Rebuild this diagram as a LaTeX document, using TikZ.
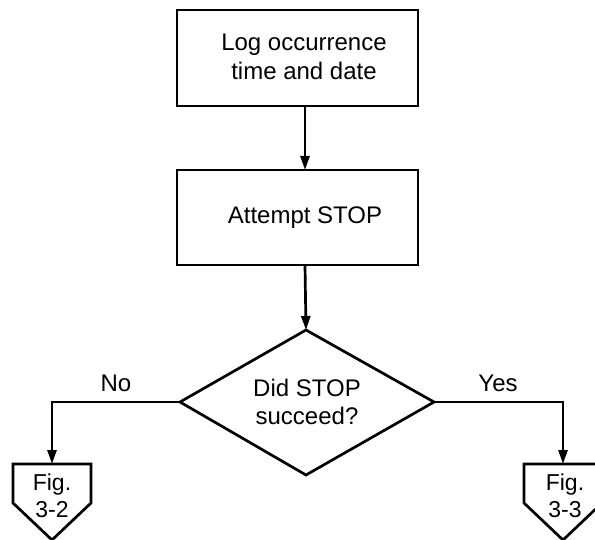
\documentclass[tikz,border=0pt]{standalone}
\usepackage{fontspec}
\setmainfont{Liberation Sans}
\usetikzlibrary{arrows.meta}
\begin{document}
\begin{tikzpicture}[x=1pt,y=-1pt,
  line width=2.7pt,
  lbl/.style={font=\fontsize{24}{28.5}\selectfont, align=center, inner sep=0pt},
  flbl/.style={font=\fontsize{23}{27}\selectfont, align=center, inner sep=0pt},
  arr/.style={-{Triangle[length=14pt,width=9pt]}}]
\useasboundingbox (0,0) rectangle (595,540);
\begin{scope}
\clip (0,0) rectangle (595,540);
% boxes
\draw (177,10) rectangle (418,106);
\node[lbl] (b1) at (304,57) {Log occurrence\\time and date};
\coordinate (b1s) at (305,106);
\draw (177,170) rectangle (418,265);
\node[lbl] (b2) at (305,218) {Attempt STOP};
\coordinate (b2n) at (305,170);
\coordinate (b2s) at (305,265);
% diamond
\coordinate (dt) at (306,330);
\coordinate (dl) at (180,402);
\coordinate (dr) at (434,402);
\coordinate (db) at (306,475);
\draw (dt) -- (dr) -- (db) -- (dl) -- cycle;
\node[lbl] (d) at (307,402) {Did STOP\\succeed?};
% connectors
\draw[arr] (b1s) -- (b2n);
\draw[arr] (b2s) -- (dt);
\coordinate (lt) at (52,464);
\coordinate (rt) at (563,464);
\draw[arr] (dl) -- (52,402) -- (lt);
\draw[arr] (dr) -- (563,402) -- (rt);
\node[lbl] (no) at (116,383) {No};
\node[lbl] (yes) at (498,383) {Yes};
% off-page connectors
\draw (13,464) -- (91,464) -- (91,503) -- (52,540) -- (13,503) -- cycle;
\node[flbl] (f2) at (52,496) {Fig.\\3-2};
\draw (524,464) -- (602,464) -- (602,503) -- (563,540) -- (524,503) -- cycle;
\node[flbl] (f3) at (565,496) {Fig.\\3-3};
\end{scope}
\end{tikzpicture}
\end{document}
